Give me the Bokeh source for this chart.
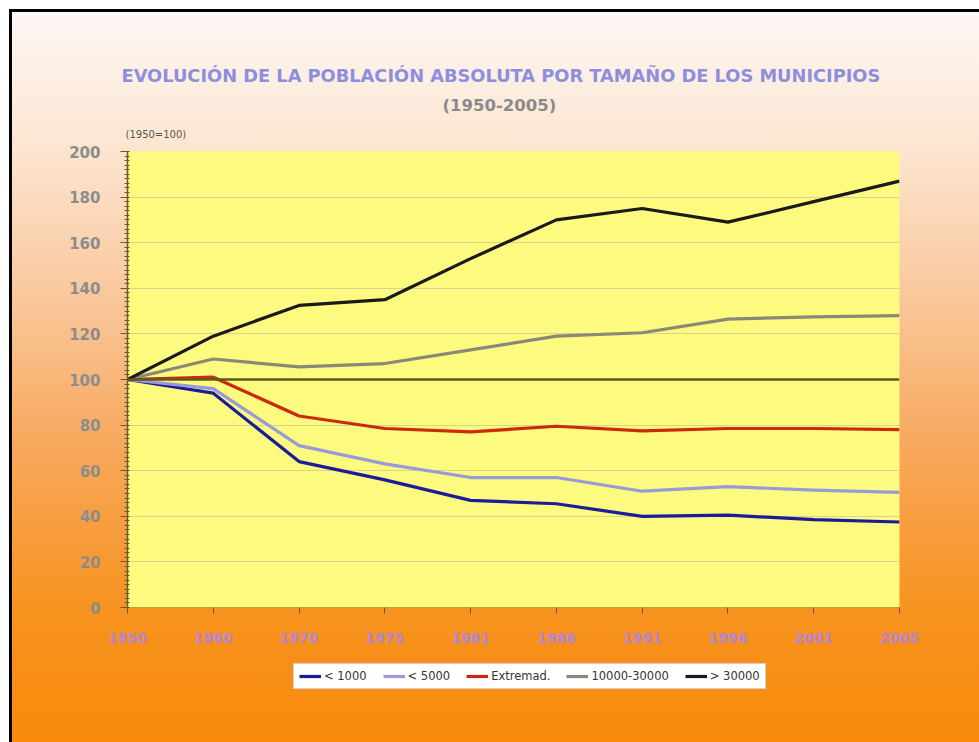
from bokeh.plotting import figure
from bokeh.layouts import column
from bokeh.models import (FixedTicker, Range1d, Span, Title, Legend, LegendItem,
                          ColumnDataSource)
from bokeh.embed import file_html
from bokeh.resources import INLINE

years = ["1950", "1960", "1970", "1975", "1981", "1986", "1991", "1996", "2001", "2005"]
lt1000 = [100, 94, 64, 56, 47, 45.5, 40, 40.5, 38.5, 37.5]
lt5000 = [100, 96, 71, 63, 57, 57, 51, 53, 51.5, 50.5]
extremad = [100, 101, 84, 78.5, 77, 79.5, 77.5, 78.5, 78.5, 78]
mid = [100, 109, 105.5, 107, 113, 119, 120.5, 126.5, 127.5, 128]
gt30000 = [100, 119, 132.5, 135, 153, 170, 175, 169, 178, 187]
series_names = ["< 1000", "< 5000", "Extremad.", "10000-30000", "> 30000"]
series_colors = ["#1c1c9a", "#9a9ad8", "#cc2a10", "#8a8878", "#1a1a1a"]
y_ticks = list(range(0, 201, 20))

xs = list(range(len(years)))

W, H = 979, 742
H2 = 87
H1 = H - H2
FL, FR, FT = 127, 80, 151
FB = H1 - 607

p = figure(width=W, height=H1, output_backend="svg", toolbar_location=None,
           x_range=Range1d(0, len(years) - 1), y_range=Range1d(0, 200),
           min_border_left=FL, min_border_right=FR, min_border_top=FT, min_border_bottom=FB)
p.border_fill_color = None
p.background_fill_color = "#fcfb80"
p.outline_line_color = None

# axes
p.xaxis.ticker = FixedTicker(ticks=xs)
p.xaxis.major_label_overrides = {i: y for i, y in enumerate(years)}
p.xaxis.major_label_text_color = "#b384dc"
p.xaxis.major_label_text_font = "DejaVu Sans"
p.xaxis.major_label_text_font_size = "14px"
p.xaxis.major_label_text_font_style = "bold"
p.xaxis.major_label_standoff = 19
p.xaxis.axis_line_color = "#c89a3a"
p.xaxis.major_tick_line_color = "#6b5a2a"
p.xaxis.major_tick_out = 6
p.xaxis.major_tick_in = 0
p.xaxis.minor_tick_line_color = None

p.yaxis.ticker = FixedTicker(ticks=y_ticks, minor_ticks=list(range(0, 201, 2)))
p.yaxis.major_label_text_color = "#8c8c8c"
p.yaxis.major_label_text_font = "DejaVu Sans"
p.yaxis.major_label_text_font_size = "15px"
p.yaxis.major_label_text_font_style = "bold"
p.yaxis.major_label_standoff = 20
p.yaxis.axis_line_color = "#6b5a2a"
p.yaxis.axis_line_width = 1.5
p.yaxis.major_tick_line_color = "#6b5a2a"
p.yaxis.major_tick_out = 7
p.yaxis.major_tick_in = 0
p.yaxis.minor_tick_line_color = "#6b5a2a"
p.yaxis.minor_tick_out = 3
p.yaxis.minor_tick_in = 2

p.xgrid.grid_line_color = None
p.ygrid.ticker = FixedTicker(ticks=y_ticks)
p.ygrid.grid_line_color = "#d8d48e"
p.ygrid.grid_line_width = 1

p.add_layout(Span(location=100, dimension="width", line_color="#5e5a1e", line_width=2.5))

series = [lt1000, lt5000, extremad, mid, gt30000]
for name, col, vals in zip(series_names, series_colors, series):
    src = ColumnDataSource(dict(x=xs, y=vals))
    p.line("x", "y", source=src, line_color=col, line_width=3.2, line_join="round")

# titles, stacked outward from the frame
p.add_layout(Title(text="(1950=100)", align="left", text_font="DejaVu Sans",
                   text_font_size="10px", text_font_style="normal", text_color="#555555",
                   standoff=24, offset=-2), "above")
p.add_layout(Title(text="(1950-2005)", align="left", text_font="DejaVu Sans",
                   text_font_size="16.5px", text_font_style="bold", text_color="#8a8a8a",
                   standoff=0, offset=315), "above")
p.add_layout(Title(text="EVOLUCIÓN DE LA POBLACIÓN ABSOLUTA POR TAMAÑO DE LOS MUNICIPIOS",
                   align="left", text_font="DejaVu Sans", text_font_size="17.8px",
                   text_font_style="bold", text_color="#8e8ede", standoff=16, offset=-6),
             "above")

# legend strip below the chart
p2 = figure(width=W, height=H2, output_backend="svg", toolbar_location=None,
            x_range=Range1d(0, 1), y_range=Range1d(1000, 1001),
            min_border=0, min_border_left=0, min_border_right=0,
            min_border_top=0, min_border_bottom=0)
p2.axis.visible = False
p2.grid.visible = False
p2.border_fill_color = None
p2.background_fill_color = None
p2.outline_line_color = None
items = []
for name, col, vals in zip(series_names, series_colors, series):
    src = ColumnDataSource(dict(x=xs, y=vals))
    r = p2.line("x", "y", source=src, line_color=col, line_width=3.2)
    items.append(LegendItem(label=name, renderers=[r]))
legend = Legend(items=items, orientation="horizontal", location=(166, H - 689),
                background_fill_color="white", background_fill_alpha=1,
                border_line_color="#b0a090", border_line_width=1,
                label_text_font="DejaVu Sans", label_text_font_size="11.5px",
                label_text_color="#333333", glyph_width=22, glyph_height=10,
                label_standoff=3, spacing=16, padding=5, margin=0,
                label_height=10)
p2.add_layout(legend, "center")

lay = column(p, p2, spacing=0, width=W, height=H)
lay.styles = {"background": (
    "linear-gradient(#000,#000) 9px 9px / 3px calc(100% - 9px) no-repeat, "
    "linear-gradient(#000,#000) 9px 9px / calc(100% - 9px) 3px no-repeat, "
    "linear-gradient(to bottom, #fdf8f4 0%, #fce6d2 18%, #f9c699 40%, #f8a75a 60%, #f7931f 82%, #f98a0c 100%) "
    "12px 12px / calc(100% - 12px) calc(100% - 12px) no-repeat, #ffffff")}

open("out.html", "w").write(file_html(lay, INLINE))
